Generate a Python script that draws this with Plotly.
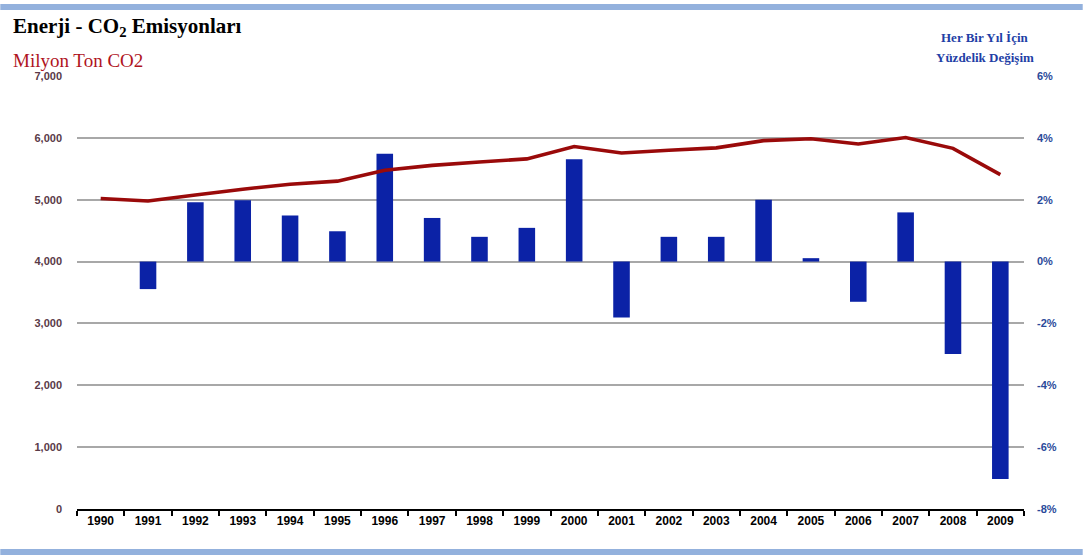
import plotly.graph_objects as go

years = [str(y) for y in range(1990, 2010)]
co2_mt = [5020, 4980, 5075, 5170, 5250, 5300, 5475, 5555, 5610, 5660,
          5860, 5755, 5800, 5838, 5955, 5985, 5900, 6005, 5830, 5405]
pct_change = [0.0, -0.89, 1.92, 1.98, 1.49, 0.98, 3.49, 1.41, 0.80, 1.09,
              3.31, -1.81, 0.80, 0.80, 2.00, 0.11, -1.30, 1.59, -2.99, -7.03]
left_ticks = [0, 1000, 2000, 3000, 4000, 5000, 6000, 7000]
right_ticks = [-8, -6, -4, -2, 0, 2, 4, 6]

fig = go.Figure()
fig.add_trace(go.Bar(x=years, y=pct_change, yaxis="y", marker_color="#0b22a6",
                     marker_line_width=0, showlegend=False))
fig.add_trace(go.Scatter(x=years, y=co2_mt, yaxis="y2", mode="lines",
                         line=dict(color="#9a0a0a", width=3.6), showlegend=False))

fig.update_layout(
    width=1083, height=555,
    margin=dict(l=77, r=59, t=76, b=46),
    paper_bgcolor="white", plot_bgcolor="white",
    bargap=0.65,
    xaxis=dict(type="category", showline=True, linecolor="black", linewidth=2,
               ticks="outside", ticklen=5, tickcolor="black", tickwidth=1.5,
               tickson="boundaries", showgrid=False,
               tickfont=dict(family="Liberation Sans Narrow, Liberation Sans, Arial", size=12,
                             color="black", weight="bold")),
    yaxis=dict(side="right", range=[-8, 6], tickvals=right_ticks,
               ticktext=[f"{v}%" for v in right_ticks],
               showgrid=True, gridcolor="#a8a8a8", gridwidth=2, zeroline=False,
               ticklabelstandoff=12,
               tickfont=dict(family="Liberation Sans, Arial", size=11, color="#2a4a9a", weight="bold")),
    yaxis2=dict(side="left", overlaying="y", range=[0, 7000], tickvals=left_ticks,
                tickformat=",", showgrid=False, zeroline=False,
                ticklabelstandoff=14,
                tickfont=dict(family="Liberation Sans, Arial", size=11, color="#5a3a48", weight="bold")),
    shapes=[
        dict(type="rect", xref="paper", yref="paper", x0=-0.081, x1=1.062,
             y0=(509 - 10) / 433, y1=(509 - 4) / 433, fillcolor="#93b1dd", line_width=0, layer="below"),
        dict(type="rect", xref="paper", yref="paper", x0=-0.081, x1=1.062,
             y0=(509 - 556) / 433, y1=(509 - 549) / 433, fillcolor="#93b1dd", line_width=0, layer="below"),
    ],
    annotations=[
        dict(text="<b>Enerji - CO<sub>2</sub> Emisyonları</b>", xref="paper", yref="paper",
             x=-0.070, y=(509 - 27) / 433, xanchor="left", yanchor="middle", showarrow=False,
             font=dict(family="Liberation Serif", size=21, color="black")),
        dict(text="Milyon Ton CO2", xref="paper", yref="paper",
             x=-0.070, y=(509 - 60) / 433, xanchor="left", yanchor="middle", showarrow=False,
             font=dict(family="Liberation Serif", size=19, color="#b0141e")),
        dict(text="<b>Her Bir Yıl İçin</b>", xref="paper", yref="paper",
             x=(985 - 77) / 947, y=(509 - 37) / 433, xanchor="center", yanchor="middle", showarrow=False,
             font=dict(family="Liberation Serif", size=13, color="#1f3fa6")),
        dict(text="<b>Yüzdelik Değişim</b>", xref="paper", yref="paper",
             x=(985 - 77) / 947, y=(509 - 57) / 433, xanchor="center", yanchor="middle", showarrow=False,
             font=dict(family="Liberation Serif", size=13, color="#1f3fa6")),
    ],
)

fig.write_html("out.html")
